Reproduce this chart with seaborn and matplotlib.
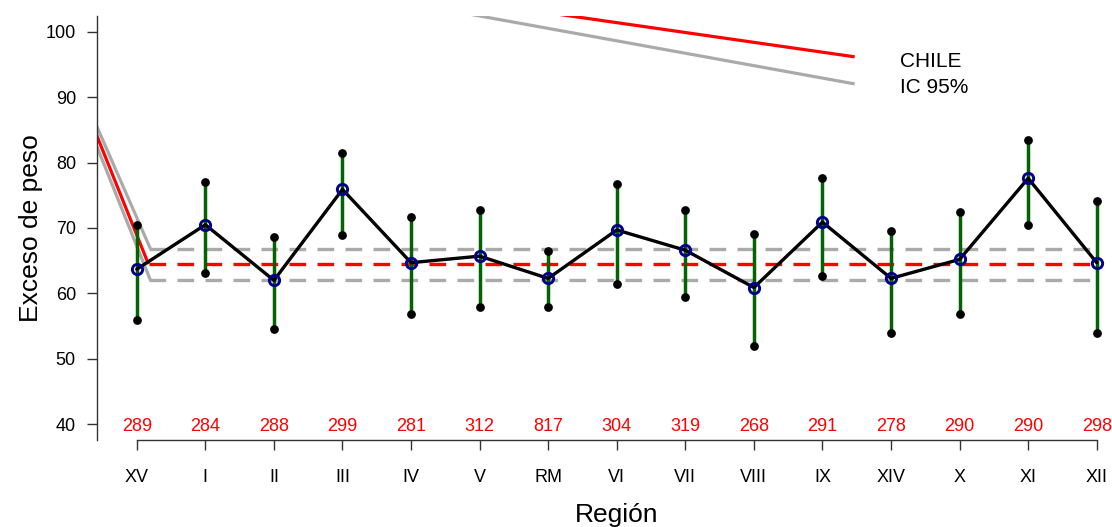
import numpy as np
import pandas as pd
import matplotlib
matplotlib.use("Agg")
import matplotlib.pyplot as plt
import seaborn as sns

# ---- data ----
regions = ["XV", "I", "II", "III", "IV", "V", "RM", "VI", "VII", "VIII", "IX", "XIV", "X", "XI", "XII"]
n_obs = [289, 284, 288, 299, 281, 312, 817, 304, 319, 268, 291, 278, 290, 290, 298]
mean_exceso = [63.7, 70.5, 62.0, 75.9, 64.7, 65.7, 62.3, 69.7, 66.6, 60.9, 70.9, 62.3, 65.2, 77.6, 64.7]
ci_lower = [56.0, 63.1, 54.6, 68.9, 56.9, 57.9, 57.9, 61.4, 59.5, 51.9, 62.7, 54.0, 56.8, 70.4, 53.9]
ci_upper = [70.4, 77.0, 68.6, 81.4, 71.7, 72.7, 66.5, 76.7, 72.7, 69.1, 77.7, 69.6, 72.5, 83.5, 74.2]
chile_mean = 64.5
chile_ci = [62.0, 66.8]
chile_x_span = [1.18, 15.05]
# stray legend segments as drawn in the original (x0, y0, x1, y1)
legend_red_segments = [[0.0, 95.0, 1.17, 64.5], [5.0, 105.9, 11.47, 96.16]]
legend_grey_segments = [[0.0, 95.5, 1.2, 66.8], [0.0, 93.4, 1.2, 62.0], [4.0, 106.2, 11.47, 92.02]]
legend_labels = ["CHILE", "IC 95%"]
legend_label_y = [95.5, 91.5]
legend_label_x = 12.13
y_ticks = [40, 50, 60, 70, 80, 90, 100]
count_row_y = 39.6

sns.set_theme(style="white")
plt.rcParams['font.family'] = ['Liberation Sans', 'DejaVu Sans']
plt.rcParams['text.color'] = 'black'
plt.rcParams['axes.labelcolor'] = 'black'

pos = np.arange(1, len(regions) + 1)
df = pd.DataFrame({"pos": pos, "region": regions, "mean": mean_exceso,
                   "lower": ci_lower, "upper": ci_upper, "n": n_obs})

fig = plt.figure(figsize=(11.12, 5.27), dpi=100)
ax = fig.add_axes([97 / 1112, 87 / 527, 1039.5 / 1112, 424 / 527])
ax.set_xlim(0.42, 15.58)
ax.set_ylim(37.6, 102.4)

grey = '#AAAAAA'
# reference lines
for yv in chile_ci:
    ax.plot(chile_x_span, [yv, yv], color=grey, lw=2.4, dashes=(5, 3.4), zorder=1)
ax.plot(chile_x_span, [chile_mean, chile_mean], color='red', lw=2.4, dashes=(5, 3.4), zorder=1)

# stray legend segments
for x0, y0, x1, y1 in legend_grey_segments:
    ax.plot([x0, x1], [y0, y1], color=grey, lw=2.3, zorder=1.5, solid_capstyle='butt')
for x0, y0, x1, y1 in legend_red_segments:
    ax.plot([x0, x1], [y0, y1], color='red', lw=2.3, zorder=1.6, solid_capstyle='butt')

for lab, ly in zip(legend_labels, legend_label_y):
    ax.text(legend_label_x, ly, lab, fontsize=15, ha='left', va='center', color='black')

# CI bars
ax.vlines(df["pos"], df["lower"], df["upper"], color='#006400', lw=2.5, zorder=2)

# mean line
sns.lineplot(data=df, x="pos", y="mean", color='black', lw=2.4, ax=ax, zorder=3, sort=False)

# CI endpoints
ax.plot(df["pos"], df["lower"], 'o', color='black', ms=6.3, mew=0, zorder=4)
ax.plot(df["pos"], df["upper"], 'o', color='black', ms=6.3, mew=0, zorder=4)

# mean markers
ax.plot(df["pos"], df["mean"], 'o', mfc='none', mec='#00008B', ms=7.4, mew=2.1, zorder=5)

# counts
for p, nv in zip(df["pos"], df["n"]):
    ax.text(p, count_row_y, str(nv), color='red', ha='center', va='center', fontsize=13, zorder=6)

# axes styling
ax.set_xticks(pos)
ax.set_xticklabels(regions)
ax.set_yticks(y_ticks)
ax.set_yticklabels([str(v) for v in y_ticks])
ax.tick_params(axis='x', bottom=True, length=7.2, width=1, pad=14, labelsize=13,
               color='#333333', labelcolor='black')
ax.tick_params(axis='y', left=True, length=7.2, width=1, pad=8, labelsize=13,
               color='#333333', labelcolor='black')
for s in ['top', 'right']:
    ax.spines[s].set_visible(False)
for s in ['left', 'bottom']:
    ax.spines[s].set_color('#333333')
    ax.spines[s].set_linewidth(1)
ax.spines['bottom'].set_bounds(1, 15)

ax.set_xlabel("Región", fontsize=19, labelpad=12, color='black')
ax.set_ylabel("Exceso de peso", fontsize=19, labelpad=2, color='black')
ax.grid(False)

fig.savefig("out.png", dpi=100)
